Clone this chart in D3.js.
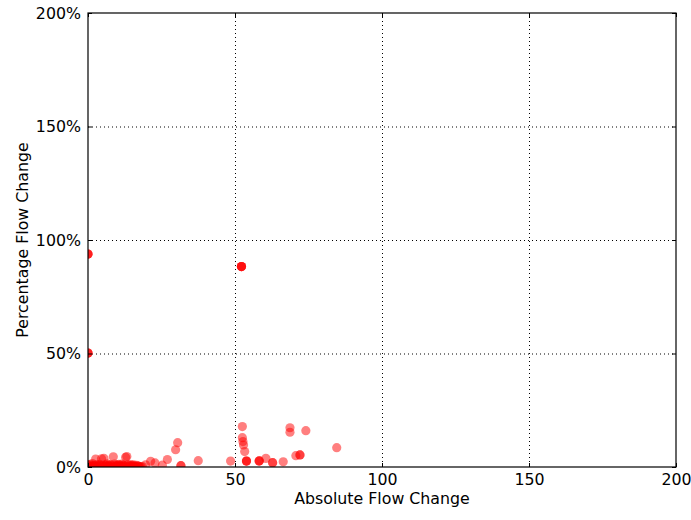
<!DOCTYPE html>
<html>
<head>
<meta charset="utf-8">
<script src="https://cdn.jsdelivr.net/npm/d3@7"></script>
<style>
  html, body { margin: 0; padding: 0; background: #fff; }
  svg { display: block; }
  text { font-family: "DejaVu Sans", sans-serif; fill: #000; }
</style>
</head>
<body>
<svg id="chart" width="691" height="520"></svg>
<script>
// Axis ticks
const xTicks = [0, 50, 100, 150, 200];
const yTicks = [0, 50, 100, 150, 200];
const yTickLabels = ["0%", "50%", "100%", "150%", "200%"];

// Absolute change (x) and percentage change (y) per flow
const absChange = [
  // small changes
  0, 0.3, 0.7, 1.0, 1.5, 2.0, 2.6, 3.0, 3.5, 4.0, 4.6, 5.4, 6.0, 6.5, 7.0,
  7.5, 8.0, 8.6, 9.0, 9.5, 10.0, 10.5, 11.0, 11.5, 12.0, 12.8, 13.2, 13.6,
  14.0, 14.5, 15.0, 15.5, 16.0, 16.5, 17.0, 17.5, 1.2, 3.2, 5.8, 9.8, 14.8,
  0.5, 1.8, 2.3, 3.8, 4.3, 5.0, 6.3, 6.8, 7.3, 8.3, 9.3, 10.3, 10.8, 11.3,
  11.8, 12.3, 13.0, 14.2, 15.2, 16.2, 17.2, 18.0, 18.5,
  19.6, 21.3, 22.8, 25.3, 27.0, 29.8, 30.5, 31.6, 31.6, 37.5, 48.5,
  // mid-range changes
  52.5, 52.5, 52.7, 52.9, 53.3, 53.9, 53.9, 53.9, 58.2, 58.2, 58.3, 60.5,
  62.8, 62.8, 66.4, 68.7, 68.7, 70.7, 72.1, 72.1, 74.1, 84.6,
  // large percentage outliers
  0, 0, 0, 0, 0, 0, 52.2, 52.2, 52.2, 52.2
];
const pctChange = [
  1.0, 0.5, 1.2, 0.3, 1.5, 0.8, 3.5, 1.0, 0.4, 1.2, 3.6, 3.8, 0.9, 1.4, 0.5,
  1.1, 0.7, 4.5, 1.3, 0.6, 1.0, 1.2, 0.4, 1.3, 0.8, 4.3, 4.6, 1.0,
  0.6, 1.1, 0.5, 0.9, 0.3, 0.7, 0.5, 0.2, 0.2, 0.1, 0.3, 0.2, 0.1,
  0.3, 0.6, 0.2, 0.8, 0.4, 0.7, 0.3, 0.6, 0.2, 0.5, 0.4, 0.6, 0.2, 0.5,
  0.3, 0.6, 0.4, 0.3, 0.5, 0.2, 0.3, 0.1, 0.2,
  1.0, 2.5, 1.8, 0.8, 3.3, 7.6, 10.7, 0.6, 0.6, 2.8, 2.6,
  17.8, 12.9, 11.2, 9.7, 6.8, 2.6, 2.6, 2.6, 2.6, 2.6, 2.8, 3.8,
  1.9, 1.9, 2.3, 17.3, 15.3, 5.0, 5.3, 5.3, 16.0, 8.5,
  93.8, 93.8, 93.8, 50.2, 50.2, 50.2, 88.3, 88.3, 88.3, 88.3
];

const svg = d3.select("#chart");
const margin = { left: 88, top: 13, right: 691 - 676, bottom: 520 - 467 };
const width = 691 - margin.left - margin.right;
const height = 520 - margin.top - margin.bottom;

const x = d3.scaleLinear().domain([0, 200]).range([0, width]);
const y = d3.scaleLinear().domain([0, 200]).range([height, 0]);

const g = svg.append("g").attr("transform", `translate(${margin.left},${margin.top})`);

g.append("clipPath").attr("id", "plot-clip")
  .append("rect").attr("width", width).attr("height", height);

// Dotted grid lines
const grid = g.append("g");
grid.selectAll(".gx").data(xTicks.slice(1, -1)).join("line")
  .attr("x1", d => x(d) + 0.5).attr("x2", d => x(d) + 0.5)
  .attr("y1", 0).attr("y2", height)
  .attr("stroke", "#000").attr("stroke-width", 1).attr("stroke-dasharray", "1,3");
grid.selectAll(".gy").data(yTicks.slice(1, -1)).join("line")
  .attr("y1", d => y(d) + 0.5).attr("y2", d => y(d) + 0.5)
  .attr("x1", 0).attr("x2", width)
  .attr("stroke", "#000").attr("stroke-width", 1).attr("stroke-dasharray", "1,3");

// Scatter points
const pts = absChange.map((v, i) => [v, pctChange[i]]);
g.append("g").attr("clip-path", "url(#plot-clip)")
  .selectAll("circle").data(pts).join("circle")
  .attr("cx", d => x(d[0]))
  .attr("cy", d => y(d[1]))
  .attr("r", 4.6)
  .attr("fill", "red")
  .attr("fill-opacity", 0.5);

// Axes with inward ticks on all four sides
const tickLen = 4;
const xAxisB = g.append("g").attr("transform", `translate(0,${height})`)
  .call(d3.axisBottom(x).tickValues(xTicks).tickSizeInner(-tickLen).tickSizeOuter(0).tickPadding(7));
const xAxisT = g.append("g")
  .call(d3.axisTop(x).tickValues(xTicks).tickSizeInner(-tickLen).tickSizeOuter(0).tickFormat(""));
const yAxisL = g.append("g")
  .call(d3.axisLeft(y).tickValues(yTicks).tickSizeInner(-tickLen).tickSizeOuter(0).tickPadding(7)
    .tickFormat((d, i) => yTickLabels[i]));
const yAxisR = g.append("g").attr("transform", `translate(${width},0)`)
  .call(d3.axisRight(y).tickValues(yTicks).tickSizeInner(-tickLen).tickSizeOuter(0).tickFormat(""));

[xAxisB, xAxisT, yAxisL, yAxisR].forEach(a => {
  a.select(".domain").remove();
  a.selectAll("line").attr("stroke", "#000");
  a.selectAll("text").style("font-family", "DejaVu Sans, sans-serif").style("font-size", "15.8px").attr("fill", "#000");
});

// Frame
g.append("rect").attr("width", width).attr("height", height)
  .attr("fill", "none").attr("stroke", "#000").attr("stroke-width", 1.2);

// Axis titles
svg.append("text")
  .attr("x", margin.left + width / 2).attr("y", 504)
  .attr("text-anchor", "middle").style("font-size", "15.8px")
  .text("Absolute Flow Change");
svg.append("text")
  .attr("transform", `translate(28,${margin.top + height / 2}) rotate(-90)`)
  .attr("text-anchor", "middle").style("font-size", "15.8px")
  .text("Percentage Flow Change");
</script>
</body>
</html>
